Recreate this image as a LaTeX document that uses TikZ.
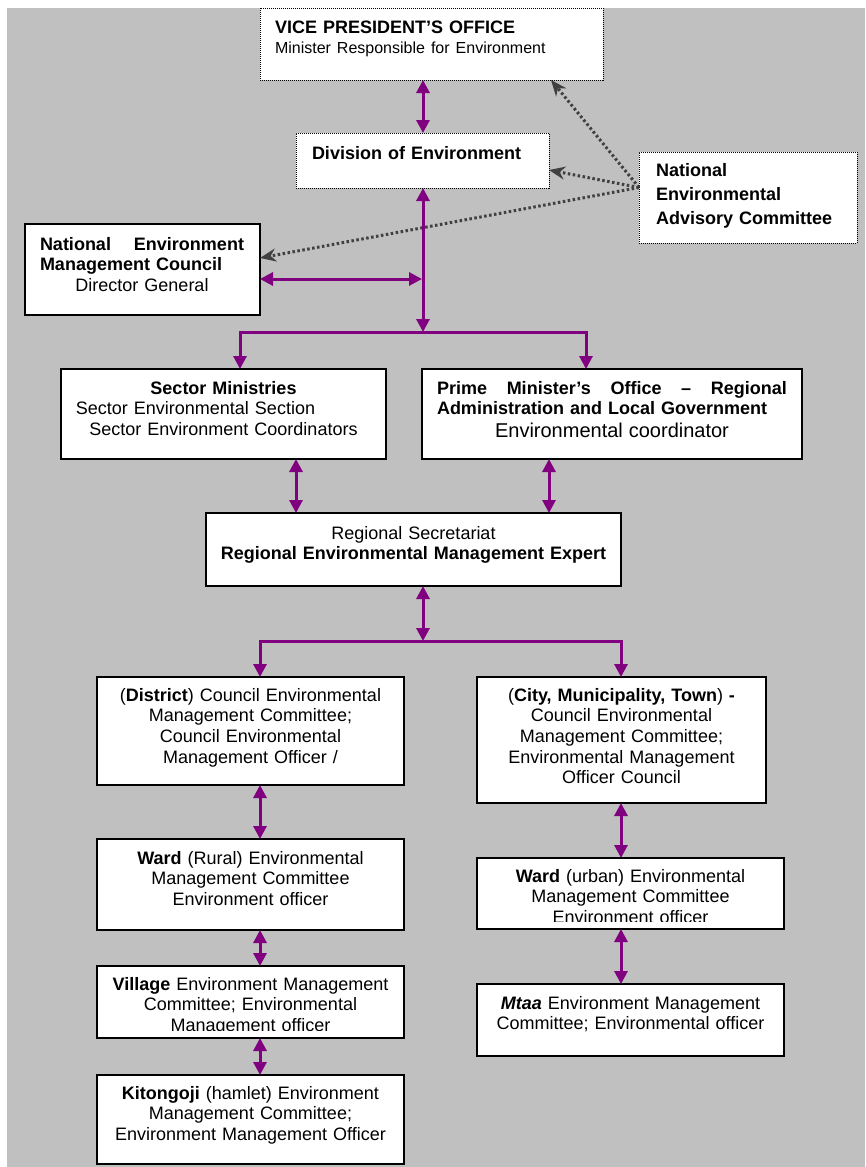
\documentclass[tikz,border=0pt]{standalone}
\usepackage{fontspec}
\setmainfont{Liberation Sans}
\usetikzlibrary{arrows.meta,calc}
\definecolor{bg}{HTML}{C0C0C0}
\definecolor{purp}{HTML}{800080}
\definecolor{dk}{HTML}{404040}
\begin{document}
\begin{tikzpicture}[x=1pt,y=-1pt,
 solidbox/.style={draw=black,line width=1.3pt,fill=white,inner sep=0pt,outer sep=0pt,anchor=north west},
 dotbox/.style={draw=black,line width=1pt,dash pattern=on 1pt off 1pt,fill=white,inner sep=0pt,outer sep=0pt,anchor=north west},
 txt/.style={inner sep=0pt,outer sep=0pt,font=\fontsize{18}{20.7}\selectfont,anchor=base,align=center},
 link/.style={draw=purp,line width=3pt,{Triangle[width=13pt,length=13pt]}-{Triangle[width=13pt,length=13pt]}},
 adv/.style={draw=dk,line width=3pt,dash pattern=on 2.5pt off 2.5pt,-{Stealth[length=16pt,width=13pt]}},
]
\useasboundingbox (0,0) rectangle (865,1167);
\fill[bg] (7,8) rectangle (865,1167);

% boxes
\node[dotbox,minimum width=343pt,minimum height=72pt] (vp) at (260,8) {};
\node[dotbox,minimum width=253pt,minimum height=55pt] (div) at (296,133) {};
\node[dotbox,minimum width=218pt,minimum height=91pt] (neac) at (639,152) {};
\node[solidbox,minimum width=235pt,minimum height=91pt] (nemc) at (25,224) {};
\node[solidbox,minimum width=325pt,minimum height=90pt] (sec) at (61,369) {};
\node[solidbox,minimum width=380pt,minimum height=90pt] (pmo) at (422,369) {};
\node[solidbox,minimum width=415pt,minimum height=73pt] (reg) at (206,513) {};
\node[solidbox,minimum width=307pt,minimum height=108pt] (dis) at (97,677) {};
\node[solidbox,minimum width=289pt,minimum height=126pt] (city) at (477,677) {};
\node[solidbox,minimum width=307pt,minimum height=91pt] (wardr) at (97,839) {};
\node[solidbox,minimum width=307pt,minimum height=72pt] (vil) at (97,966) {};
\node[solidbox,minimum width=307pt,minimum height=89pt] (kit) at (97,1075) {};
\node[solidbox,minimum width=307pt,minimum height=71pt] (wardu) at (477,858) {};
\node[solidbox,minimum width=307pt,minimum height=72pt] (mtaa) at (477,984) {};

% texts
\node[txt,anchor=base west,text width=330pt,align=left] (vpt) at (275,33)
 {\textbf{VICE PRESIDENT’S OFFICE}\\{\fontsize{16}{19.5}\selectfont Minister Responsible for Environment}};
\node[txt,anchor=base west,text width=230pt,align=left] (divt) at (312,159)
 {\textbf{Division of Environment}};
\node[txt,anchor=base west,text width=195pt,align=left,font=\bfseries\fontsize{18}{24}\selectfont] (neact) at (656,176)
 {National\\Environmental\\Advisory Committee};
\node[txt,anchor=base west,text width=204pt,align=center] (nemct) at (40,250)
 {\textbf{National\hspace{\fill}Environment}\\\textbf{Management Council}\hspace*{\fill}\null\\Director General};
\node[txt,text width=310pt] (sect) at (223.5,394)
 {\textbf{Sector Ministries}\\Sector Environmental Section\hspace*{56pt}\null\\Sector Environment Coordinators};
\node[txt,anchor=base west,text width=350pt,align=center] (pmot) at (437,394)
 {\textbf{Prime\hspace{\fill}Minister’s\hspace{\fill}Office\hspace{\fill}–\hspace{\fill}Regional}\\\textbf{Administration and Local Government}\hspace*{\fill}\null\\{\fontsize{20}{23}\selectfont Environmental coordinator\par}};
\node[txt,text width=400pt] (regt) at (413.5,539)
 {Regional Secretariat\\\textbf{Regional Environmental Management Expert}};
\node[txt,text width=295pt] (dist) at (250.5,701)
 {(\textbf{District}) Council Environmental\\Management Committee;\\Council Environmental\\Management Officer /};
\node[txt,text width=280pt] (cityt) at (621.5,701)
 {(\textbf{City, Municipality, Town}) \textbf{-}\\Council Environmental\\Management Committee;\\Environmental Management\\Officer Council};
\node[txt,text width=295pt] (wardrt) at (250.5,864)
 {\textbf{Ward} (Rural) Environmental\\Management Committee\\Environment officer};
\begin{scope}
\clip (vil.north west) rectangle ([yshift=8pt]vil.south east);
\node[txt,text width=295pt] (vilt) at (250.5,990)
 {\textbf{Village} Environment Management\\Committee; Environmental\\Management officer};
\end{scope}
\node[txt,text width=295pt] (kitt) at (250.5,1099)
 {\textbf{Kitongoji} (hamlet) Environment\\Management Committee;\\Environment Management Officer};
\begin{scope}
\clip (wardu.north west) rectangle ([yshift=8pt]wardu.south east);
\node[txt,text width=295pt] (wardut) at (630.5,882)
 {\textbf{Ward} (urban) Environmental\\Management Committee\\Environment officer};
\end{scope}
\node[txt,text width=295pt] (mtaat) at (630.5,1009)
 {\textbf{\itshape Mtaa} Environment Management\\Committee; Environmental officer};

% helper coordinates
\coordinate (cx) at (423,0);
\coordinate (lx) at (240,0);
\coordinate (rx) at (586,0);
\coordinate (sx) at (296,0);
\coordinate (px) at (549,0);
\coordinate (lx2) at (260,0);
\coordinate (rx2) at (621,0);
\coordinate (bar1) at (423,332);
\coordinate (bar2) at (423,641);
\coordinate (h1) at (422,279);

% advisory dotted arrows
\draw[adv] ([yshift=10pt]neac.west) -- ($(vp.south east)+(-52,0)$);
\draw[adv] ([yshift=10pt]neac.west) -- ([yshift=-9.5pt]div.east);
\draw[adv] ([yshift=10pt]neac.west) -- ([yshift=11.5pt]nemc.east);

% purple links
\draw[link] (vp.south -| cx) -- (div.north -| cx);
\draw[link] (div.south -| cx) -- (bar1);
\draw[link] (nemc.east |- h1) -- (h1);
\draw[link] (sec.north -| lx) |- (bar1 -| rx) -- (pmo.north -| rx);
\draw[link] (sec.south -| sx) -- (reg.north -| sx);
\draw[link] (pmo.south -| px) -- (reg.north -| px);
\draw[link] (reg.south -| cx) -- (bar2);
\draw[link] (dis.north -| lx2) |- (bar2 -| rx2) -- (city.north -| rx2);
\draw[link] (dis.south -| lx2) -- (wardr.north -| lx2);
\draw[link] (wardr.south -| lx2) -- (vil.north -| lx2);
\draw[link] (vil.south -| lx2) -- (kit.north -| lx2);
\draw[link] (city.south -| rx2) -- (wardu.north -| rx2);
\draw[link] (wardu.south -| rx2) -- (mtaa.north -| rx2);
\end{tikzpicture}
\end{document}
